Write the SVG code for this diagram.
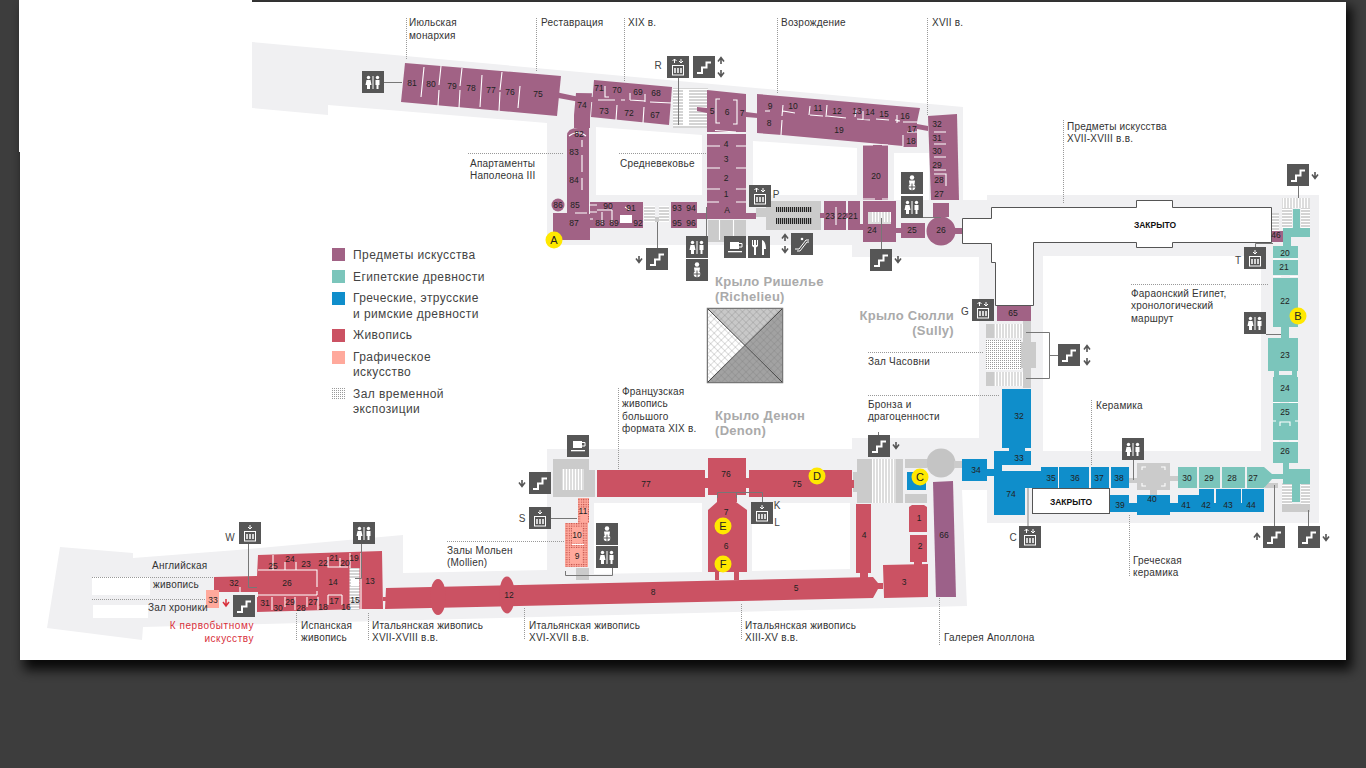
<svg xmlns="http://www.w3.org/2000/svg" width="1366" height="768" viewBox="0 0 1366 768">
<style>
text{font-family:"Liberation Sans",Arial,sans-serif}
.l{font-size:10px;fill:#333;letter-spacing:.22px}
.lg{font-size:12px;fill:#444;letter-spacing:.42px}
.n{font-size:8.5px;fill:#222;text-anchor:middle;dominant-baseline:central}
.wing{font-size:13px;font-weight:bold;fill:#aaa;letter-spacing:.3px}
.m{font-size:11px;fill:#222;text-anchor:middle;dominant-baseline:central}
.red{fill:#d8303c;text-anchor:end;letter-spacing:.55px}
.cl{font-size:8.5px;font-weight:bold;fill:#111;text-anchor:middle;dominant-baseline:central}
.lt{font-size:10px;fill:#444;text-anchor:middle;dominant-baseline:central}
.p{fill:#a16285}.t{fill:#7bc5bb}.b{fill:#0f8ecb}.r{fill:#cb5263}.k{fill:#cbcbcb}.y{fill:#ffe800}
.dot{stroke:#999;stroke-width:1;stroke-dasharray:1 1;fill:none}
.con{stroke:#777;stroke-width:1;fill:none}
.w{stroke:#fff;stroke-width:1.1;fill:none}
.hole{fill:#fff}
.arr{stroke:#555;stroke-width:1.6;fill:none}
</style>
<defs>
<filter id="sh" x="-5%" y="-5%" width="110%" height="110%"><feGaussianBlur stdDeviation="6"/></filter>
<pattern id="st" width="4" height="3" patternUnits="userSpaceOnUse"><rect width="4" height="3" fill="#d4d4d4"/><rect y="2" width="4" height="1" fill="#fff"/></pattern>
<pattern id="st2" width="3" height="3" patternUnits="userSpaceOnUse"><rect width="3" height="3" fill="#ddd"/><rect x="2" width="1" height="3" fill="#fff"/></pattern>
<pattern id="dots" width="2" height="2" patternUnits="userSpaceOnUse"><rect width="2" height="2" fill="#fff"/><rect width="1" height="1" fill="#999"/></pattern>
<pattern id="pd" width="2.4" height="2.4" patternUnits="userSpaceOnUse"><rect width="2.4" height="2.4" fill="#ffa99c"/><rect width="1.1" height="1.1" fill="#b8443f"/></pattern>
<pattern id="esc" width="2" height="6" patternUnits="userSpaceOnUse"><rect width="2" height="6" fill="#ccc"/><rect width="1.2" height="6" fill="#222"/></pattern>
<pattern id="hx" width="5" height="5" patternUnits="userSpaceOnUse" patternTransform="rotate(45)"><path d="M0 0H5M0 0V5" stroke="#777" stroke-width=".5" fill="none"/></pattern>
<g id="i-st"><rect width="22" height="22" fill="#565656"/><path d="M4 17H9V11.500H13.500V6.500H18" stroke="#fff" stroke-width="2" fill="none"/></g>
<g id="i-wc"><rect width="22" height="22" fill="#565656"/><g fill="#fff"><circle cx="6.500" cy="6.500" r="1.700"/><path d="M4.500 9H8.500L9.500 14H8V18H5V14H3.500Z"/><circle cx="15.500" cy="6.500" r="1.700"/><path d="M13.500 9H17.500V14H16.500V18H14.500V14H13.500Z"/><rect x="10.500" y="5" width="1" height="13"/></g></g>
<g id="i-lf"><rect width="22" height="22" fill="#565656"/><rect x="5.500" y="9.500" width="11" height="9.500" fill="none" stroke="#fff"/><path d="M8 12V17M11 12V17M14 12V17" stroke="#fff" stroke-width="1.500"/></g>
<g id="au"><path d="M0 3.500L3-.5L6 3.500M3-.5V6" class="arr"/></g>
<g id="ad"><path d="M0 2.500L3 6.500L6 2.500M3 6.500V0" class="arr"/></g>
<g id="sau"><path d="M-2 2L0 0L2 2M0 0V4" stroke="#fff" fill="none"/></g>
<g id="sad"><path d="M-2 2L0 4L2 2M0 0V4" stroke="#fff" fill="none"/></g>
<g id="i-lud"><use href="#i-lf"/><use href="#sau" x="7.500" y="3"/><use href="#sad" x="14" y="3"/></g>
<g id="i-ld"><use href="#i-lf"/><use href="#sad" x="11" y="3"/></g>
<g id="i-bb"><rect width="22" height="22" fill="#565656"/><g fill="#fff"><circle cx="11" cy="5.500" r="2.200"/><path d="M8 8.500H14L13.500 12H8.500Z"/><circle cx="11" cy="15" r="3.300"/></g><path d="M7.500 15H14.500M11 11.500V18.500" stroke="#565656"/></g>
<g id="i-cf"><rect width="22" height="22" fill="#565656"/><path d="M6 6H15V13H6Z" fill="#fff"/><path d="M15 7.500H18V11H15" fill="none" stroke="#fff"/><rect x="4" y="15" width="14" height="1.300" fill="#fff"/></g>
<g id="i-fk"><rect width="22" height="22" fill="#565656"/><path d="M4 4V10L6 11.500V19H8V11.500L10 10V4H9V9H8V4H6V9H5V4Z M14 19V4C17 5 18 9 18 13H16V19Z" fill="#fff"/></g>
<g id="i-es"><rect width="22" height="22" fill="#565656"/><path d="M4 16H8L15 7H18M6 18H9L16 9H18" stroke="#fff" fill="none"/><circle cx="11" cy="6" r="1.300" fill="#fff"/></g>
</defs>

<rect width="1366" height="768" fill="#3d3d3d"/>
<rect x="24" y="6" width="1328" height="664" fill="#000" opacity=".85" filter="url(#sh)"/>
<rect x="20" y="2" width="1326" height="658" fill="#fff"/>
<rect x="19" y="0" width="233" height="152" fill="#fff"/>

<g id="floor">
<path fill="#f0f0f2" d="M252 42L963 107V200H987V195H1319V523H987V490H962L967 606L143 627L142 640L47 628L60 547L133 553V558L237 550L403 535V573L547 570V449H852V438H979V257H852V245H547V123L328 105V115L252 108Z"/>
<path class="hole" d="M596 127L702 135V195H596Z"/>
<path class="hole" d="M753 141L857 148V195H753Z"/>
<rect class="hole" x="894" y="153" width="35" height="47"/>
<rect class="hole" x="1043" y="256" width="218" height="195"/>
<path class="hole" d="M594 503H702V572L594 574Z"/>
<path class="hole" d="M752 503H850V569L752 571Z"/>
<rect class="hole" x="92" y="577" width="58" height="18"/>
<rect class="hole" x="93" y="605" width="55" height="13"/>
</g>

<g id="service">
<rect x="673" y="88" width="35" height="40" fill="url(#st)"/>
<rect x="683" y="90" width="6" height="36" fill="#fff"/>
<rect x="644" y="206" width="11" height="16" fill="url(#st)"/>
<rect x="659" y="206" width="10" height="16" fill="url(#st)"/>
<rect x="655" y="217" width="4" height="5" class="k"/>
<rect class="k" x="766" y="201" width="55" height="29"/>
<rect x="776" y="207" width="36" height="5" fill="url(#esc)"/>
<rect x="776" y="218" width="36" height="6" fill="url(#esc)"/>
<rect class="k" x="756" y="208" width="10" height="9"/>
<rect class="k" x="708" y="220" width="38" height="22"/>
<path class="w" d="M719.500 220V240M733.500 220V240"/>
<rect x="1271" y="213" width="8" height="18" fill="url(#st)"/>
<rect x="1282" y="198" width="28" height="10" fill="url(#st2)"/>
<rect x="1282" y="208" width="10" height="20" fill="url(#st)"/>
<rect x="1301" y="208" width="9" height="20" fill="url(#st)"/>
<rect x="1282" y="483" width="10" height="21" fill="url(#st)"/>
<rect x="1301" y="483" width="9" height="21" fill="url(#st)"/>
<rect class="k" x="1282" y="504" width="28" height="8"/>
<rect class="k" x="1265" y="483" width="13" height="5"/>
<rect class="k" x="1023" y="321" width="8" height="67"/>
<rect class="k" x="1021" y="342" width="15" height="26"/>
<rect x="994" y="324" width="29" height="14" fill="url(#st2)"/>
<rect class="k" x="986" y="324" width="8" height="14"/>
<rect x="986" y="340" width="35" height="30" fill="url(#dots)"/>
<rect x="994" y="372" width="29" height="14" fill="url(#st2)"/>
<rect class="k" x="986" y="372" width="8" height="14"/>
<rect class="k" x="1129" y="478" width="8" height="5"/>
<rect class="k" x="1137" y="463" width="33" height="27"/>
<rect class="k" x="1170" y="476" width="8" height="5"/>
<rect class="k" x="1150" y="490" width="7" height="5"/>
<path class="w" d="M1142 470V467H1146M1161 467H1165V470M1142 483V486H1146M1161 486H1165V483"/>
<circle cx="941" cy="463" r="14.500" fill="#c4c4c4"/>
<rect class="k" x="905" y="459" width="22" height="9"/>
<rect class="k" x="954" y="461" width="8" height="7"/>
<rect class="k" x="905" y="494" width="22" height="9"/>
<rect class="k" x="857" y="459" width="46" height="44"/>
<rect x="872" y="459" width="24" height="44" fill="url(#st2)"/>
<rect class="k" x="853" y="472" width="4" height="20"/>
<rect class="k" x="553" y="459" width="36" height="38"/>
<rect class="k" x="589" y="470" width="6" height="27"/>
<path fill="url(#st2)" d="M562 469H584V490H562Z"/>
<rect class="k" x="576" y="568" width="13" height="12"/>
</g>

<g id="art">
<path class="p" d="M405 63L561 76L557 116L401 102Z"/>
<path class="p" d="M558 92.500L577 96.500V101.500L558 98Z"/>
<path class="p" d="M576 93L592 93.300L590 118V128H574L574 115Z"/>
<path class="p" d="M594 80L672 87L669 125L591 117Z"/>
<rect class="p" x="589" y="97" width="5" height="5"/>
<path class="p" d="M567 136Q567 128 578 128H589V214H590V240H553V213H567Z"/>
<circle class="p" cx="574" cy="179" r="6"/>
<circle class="p" cx="558" cy="205" r="6.500"/>
<path class="p" d="M590 202H643V228H590Z"/>
<rect x="620" y="215" width="12" height="8" fill="#fff"/>
<rect class="p" x="671" y="202" width="26" height="26"/>
<rect class="p" x="697" y="213" width="59" height="6"/>
<rect class="p" x="707" y="134" width="39" height="85"/>
<path class="p" d="M707 90L746 94V132H707Z"/>
<path class="p" d="M697 107L707 108V113L697 111Z"/>
<path class="p" d="M746 112L758 113.500V118L746 117Z"/>
<path class="p" d="M757 94L920 108L917 122L917 147L904 147L903 146L782 135L757 133Z"/>
<rect class="p" x="863" y="145" width="25" height="55"/>
<path class="p" d="M917 124L928 126V131L917 129Z"/>
<path class="p" d="M928 116L957 114L959 200L931 200Z"/>
<rect class="p" x="933" y="203" width="16" height="14"/>
<circle class="p" cx="941" cy="231" r="14.500"/>
<rect class="p" x="955" y="228" width="7" height="6"/>
<rect class="p" x="901" y="223" width="24" height="15"/>
<rect class="p" x="895" y="228" width="6" height="5"/>
<path class="p" d="M848 201H860V224H863V201H896V242H863V230H848Z"/>
<rect x="868" y="212" width="23" height="12" fill="#ddd"/>
<rect x="870" y="212" width="21" height="10" fill="url(#st2)"/>
<rect class="p" x="824" y="201" width="22" height="29"/>
<rect class="p" x="820" y="213" width="4" height="5"/>
<rect class="p" x="846" y="213" width="2" height="5"/>
<rect class="p" x="1271" y="231" width="12" height="11"/>
<rect class="p" x="997" y="306" width="34" height="15"/>
<path fill="#9c6189" d="M933 482L953 481L956 597L936 597Z"/>
<path class="w" d="M424 67L421 97M441 66L439 85M439 90L438 106M462 68L460 86M460 90L459 108M482 75L480 107M502 72L500 90M500 92L499 111M520 86L518 108"/>
<path class="w" d="M605 86V97L609 97M630 93V100M630 100L645 101M645 94V102M621 100L625 100M615 100H598M650 102L672 103"/>
<path class="w" d="M617 105L616 120M644 107L643 123"/>
<path class="w" d="M582 140V147M582 155V172M582 178V190M569 136Q578 129 586 136"/>
<path class="w" d="M589 205H597M575 213H587M590 212H597M590 219H593M603 210H612M612 210V222M625 207L630 210M597 210H603M602 212V224"/>
<path class="w" d="M707 146H720M736 146H746M707 168H720M736 168H746M707 189H720M736 189H746M707 202H719M736 202H746M715 130.500L736 132"/>
<path class="w" d="M720 99H716V123H720M733 100H737V124H733"/>
<path class="w" d="M765 111H770M782 116L783 105M783 111L795 113M809 115L810 106M810 115L823 116M827 105L826 117M827 116L846 118M856 110L855 117M857 119L870 120M863 111V120M876 119L889 120M895 120L900 121M897 115V123M903 122H917M782 120L781 135"/>
<path class="w" d="M903 135V146M907 132H917"/>
<path class="w" d="M863 145H873M882 145H888M863 199H875M882 199H888"/>
<path class="w" d="M934 132H946M934 144H946M934 157H946M934 170H946M934 174H946V186"/>
<path class="w" d="M836 207V225"/>
</g>

<g id="egypt">
<rect class="t" x="1293" y="209" width="7" height="19"/>
<rect class="t" x="1283" y="228" width="27" height="9"/>
<rect class="t" x="1283" y="237" width="8" height="9"/>
<rect class="t" x="1273" y="246" width="25" height="12"/>
<rect class="t" x="1273" y="260" width="25" height="15"/>
<rect class="t" x="1273" y="278" width="25" height="49"/>
<rect class="t" x="1281" y="327" width="8" height="11"/>
<rect class="t" x="1268" y="338" width="30" height="33"/>
<path class="t" d="M1274 371H1279V375H1292V371H1297V377H1274Z"/>
<rect class="t" x="1273" y="377" width="25" height="25"/>
<rect class="t" x="1273" y="403" width="25" height="18"/>
<rect class="t" x="1273" y="421" width="25" height="19"/>
<rect class="t" x="1273" y="442" width="25" height="21"/>
<rect class="t" x="1283" y="463" width="6" height="6"/>
<rect class="t" x="1283" y="469" width="27" height="15"/>
<rect class="t" x="1292" y="484" width="8" height="18"/>
<rect class="t" x="1178" y="467" width="19" height="21"/>
<rect class="t" x="1199" y="467" width="21" height="21"/>
<rect class="t" x="1222" y="467" width="23" height="21"/>
<path class="t" d="M1247 467H1264L1272 474H1283V479H1272L1264 488H1247Z"/>
<path class="w" d="M1273 259H1281M1290 259H1298M1273 276.500H1281M1290 276.500H1298"/>
<path class="w" d="M1280 426V422H1290V426"/>
<path class="w" d="M1273 402.500H1280M1289 402.500H1298M1273 421H1276M1295 421H1298M1273 441H1279M1289 441H1298"/>
</g>

<g id="greek">
<rect class="b" x="1002" y="389" width="29" height="59"/>
<path class="b" d="M994 451H1009V448H1025V451H1031V465H1002V471H1041V488H1025V515H994Z"/>
<rect class="b" x="987" y="469" width="7" height="7"/>
<rect class="b" x="962" y="459" width="25" height="22"/>
<rect class="b" x="1041" y="467" width="17" height="21"/>
<rect class="b" x="1059" y="467" width="30" height="21"/>
<rect class="b" x="1091" y="467" width="18" height="21"/>
<rect class="b" x="1111" y="467" width="18" height="21"/>
<rect class="b" x="1110" y="495" width="19" height="17"/>
<rect class="b" x="1129" y="503" width="8" height="9"/>
<rect class="b" x="1137" y="495" width="33" height="20"/>
<rect class="b" x="1170" y="503" width="8" height="9"/>
<rect class="b" x="1178" y="495" width="21" height="17"/>
<rect class="b" x="1199" y="489" width="15" height="23"/>
<rect class="b" x="1214" y="503" width="2" height="9"/>
<rect class="b" x="1216" y="489" width="25" height="23"/>
<rect class="b" x="1241" y="503" width="1" height="9"/>
<rect class="b" x="1242" y="489" width="22" height="23"/>
<rect class="b" x="907" y="472" width="19" height="18"/>
</g>

<g id="paintings">
<rect class="r" x="597" y="470" width="108" height="27"/>
<rect class="r" x="705" y="478" width="3" height="10"/>
<path class="r" d="M708 458H746V495H737V502H736L747 510V572H739V580H734V572H719V580H715V572H708V510L717 502V495H708Z"/>
<rect class="r" x="746" y="478" width="3" height="10"/>
<rect class="r" x="749" y="470" width="103" height="27"/>
<rect class="r" x="852" y="480" width="2" height="8"/>
<path class="r" d="M386 588L873 577L878 583H883V589H878L873 598L385 609Z"/>
<ellipse class="r" cx="507" cy="595" rx="8" ry="18.500"/>
<ellipse class="r" cx="438" cy="597" rx="8" ry="18"/>
<rect class="r" x="856" y="504" width="15" height="69"/>
<rect class="r" x="860" y="573" width="8" height="5"/>
<path class="r" d="M909 507L912 505H924L927 507V532H909Z"/>
<rect class="r" x="910" y="535" width="17" height="27"/>
<rect class="r" x="914" y="562" width="8" height="4"/>
<path class="r" d="M883 565L928 564V597L884 598Z"/>
<path class="r" d="M258 555L382 551L383 609H361L257 612V597H258V592H214V577L257 576Z"/>
<rect class="r" x="383" y="597" width="3" height="4"/>
<rect x="349.500" y="568" width="10" height="42" fill="url(#st)"/>
<rect x="351" y="578" width="8" height="8" fill="#fff"/>
<path class="w" d="M273 555V570M258 570H317V587M317 595H258M317 591V595M285 562V570M296 562V570M328 557V567H348M340 558V567M350 553V568M272 597V610M285 597V607M295 597V610M307 597V607M318 597V610M328 595H342M328 595V605M342 595V605M361 553V609M240 587V592"/>
<path fill="#ffa99c" d="M206 590H219V608H206Z"/>
<rect x="578" y="498" width="11" height="25" fill="url(#pd)"/>
<rect x="565" y="523" width="23" height="44" fill="url(#pd)"/>
<rect x="581" y="508" width="6" height="14" fill="#ffa99c"/>
<rect x="572" y="527" width="10" height="16" fill="#ffa99c"/>
<rect x="570" y="548" width="12" height="15" fill="#ffa99c"/>
<path class="w" d="M572 544.500H584"/>
</g>

<g id="closed">
<path fill="#fff" stroke="#555" stroke-width="1" d="M962.500 218.500H991.500V207.500H1136.500V200.500H1172.500V207.500H1271.500V242.500H1172.500V247.500H1136.500V242.500H1033.500V305.500H995.500V262.500H991.500V243.500H962.500Z"/>
<text class="cl" x="1155" y="225">ЗАКРЫТО</text>
<rect x="1032.500" y="488.500" width="77" height="25" fill="#fff" stroke="#555"/>
<text class="cl" x="1071" y="502">ЗАКРЫТО</text>
</g>

<g id="pyramid">
<rect x="707.500" y="308.500" width="75" height="74" fill="#fff" stroke="#777" stroke-width="1.500"/>
<path d="M708 309H782L745 346Z" fill="#c8c8c8"/>
<path d="M708 309V382L745 346Z" fill="#fff"/>
<path d="M782 309V382L745 346Z" fill="#a2a2a2"/>
<path d="M708 382H782L745 346Z" fill="#a2a2a2"/>
<rect x="708" y="309" width="74" height="73" fill="url(#hx)"/>
<path d="M708 309L782 382M782 309L708 382" stroke="#444"/>
</g>

<g id="leaders">
<path class="dot" d="M406.500 18V60M536.500 18V72M624.500 18V82M777.500 18V94M927.500 18V115M468 153.500H563M619 153.500H706M1063.500 120V204M1131 284.500H1268M868 352.500H983M868 395.500H999M1091.500 400V465M1129.500 515V577M618.500 388V470M447 541.500H565M92 577.500H214M92 599.500H206M296.500 613V640M368.500 613V640M524.500 608V640M741.500 604V640M939.500 598V645"/>
<path class="con" d="M384 82.500H402M678.500 78V125M657.500 222V248M706.500 207V236M881.500 218V249M923 217.500H941M1298.500 186V198M1255.500 247V243.500H1273M1266 334.500H1281M1058 355.500H1049.500M1026 332.500H1049.500V378.500H1026M878.500 432V435M1133.500 459V480M1274.500 526V485M1308.500 526V510M717.500 498V492.500H762.500V502M736.500 498V492.500M550 518.500H577M565.500 571V575.500H612.500V568M248.500 544V587.500H257M361.500 544V578.500H355"/>
<path d="M1028 526V488" stroke="#aaa" stroke-width="1.500"/>
</g>

<g id="icons">
<use href="#i-wc" x="362" y="71"/>
<use href="#i-lud" x="667" y="56"/>
<use href="#i-st" x="693" y="56"/><use href="#au" x="718" y="58"/><use href="#ad" x="718" y="70"/>
<use href="#i-st" x="646" y="248"/><use href="#ad" x="636" y="256"/>
<use href="#i-wc" x="686" y="236"/>
<use href="#i-bb" x="686" y="259"/>
<use href="#i-cf" x="724" y="236"/>
<use href="#i-fk" x="748" y="236"/>
<use href="#i-es" x="791" y="233"/><use href="#au" x="782" y="235"/><use href="#ad" x="782" y="246"/>
<use href="#i-lud" x="749" y="185"/>
<use href="#i-st" x="870" y="249"/><use href="#ad" x="895" y="256"/>
<use href="#i-bb" x="901" y="172"/>
<use href="#i-wc" x="901" y="196"/>
<use href="#i-st" x="1287" y="164"/><use href="#ad" x="1312" y="172"/>
<use href="#i-ld" x="1244" y="247"/>
<use href="#i-wc" x="1244" y="312"/>
<use href="#i-lud" x="972" y="299"/>
<use href="#i-st" x="1058" y="344"/><use href="#au" x="1084" y="346"/><use href="#ad" x="1084" y="358"/>
<use href="#i-st" x="868" y="435"/><use href="#ad" x="893" y="442"/>
<use href="#i-wc" x="1122" y="438"/>
<use href="#i-lud" x="1019" y="526"/>
<use href="#i-st" x="1263" y="526"/><use href="#au" x="1254" y="534"/>
<use href="#i-st" x="1298" y="526"/><use href="#ad" x="1323" y="534"/>
<use href="#i-ld" x="751" y="502"/>
<use href="#i-bb" x="596" y="523"/>
<use href="#i-wc" x="596" y="546"/>
<use href="#i-ld" x="529" y="507"/>
<use href="#i-st" x="529" y="472"/><use href="#ad" x="519" y="480"/>
<use href="#i-cf" x="567" y="435"/>
<use href="#i-ld" x="239" y="522"/>
<use href="#i-wc" x="353" y="522"/>
<use href="#i-st" x="233" y="595"/>
<path d="M223 602L226 606L229 602M226 606V599" stroke="#d8303c" stroke-width="1.500" fill="none"/>
</g>

<g id="access">
<text class="lt" x="658" y="65">R</text><text class="lt" x="776" y="194">P</text><text class="lt" x="1238" y="260">T</text><text class="lt" x="965" y="311">G</text><text class="lt" x="1013" y="537">C</text><text class="lt" x="777" y="505">K</text><text class="lt" x="777" y="522">L</text><text class="lt" x="522" y="518">S</text><text class="lt" x="230" y="537">W</text>
</g>

<g id="numbers">
<text class="n" x="412" y="83">81</text><text class="n" x="431" y="84">80</text><text class="n" x="452" y="86">79</text><text class="n" x="471" y="88">78</text><text class="n" x="491" y="90">77</text><text class="n" x="510" y="92">76</text><text class="n" x="538" y="94">75</text>
<text class="n" x="582" y="105">74</text><text class="n" x="599" y="88">71</text><text class="n" x="617" y="90">70</text><text class="n" x="638" y="92">69</text><text class="n" x="656" y="93">68</text><text class="n" x="604" y="111">73</text><text class="n" x="629" y="113">72</text><text class="n" x="655" y="115">67</text>
<text class="n" x="579" y="134">82</text><text class="n" x="574" y="152">83</text><text class="n" x="574" y="180">84</text><text class="n" x="558" y="205">86</text><text class="n" x="575" y="205">85</text><text class="n" x="574" y="223">87</text>
<text class="n" x="608" y="206">90</text><text class="n" x="631" y="208">91</text><text class="n" x="638" y="223">92</text><text class="n" x="600" y="223">88</text><text class="n" x="614" y="223">89</text><text class="n" x="677" y="208">93</text><text class="n" x="691" y="208">94</text><text class="n" x="677" y="223">95</text><text class="n" x="691" y="223">96</text>
<text class="n" x="712" y="111">5</text><text class="n" x="727" y="112">6</text><text class="n" x="742" y="113">7</text><text class="n" x="726" y="144">4</text><text class="n" x="726" y="159">3</text><text class="n" x="726" y="178">2</text><text class="n" x="726" y="194">1</text><text class="n" x="727" y="210">A</text>
<text class="n" x="770" y="106">9</text><text class="n" x="793" y="106">10</text><text class="n" x="818" y="108">11</text><text class="n" x="837" y="111">12</text><text class="n" x="857" y="111">13</text><text class="n" x="870" y="112">14</text><text class="n" x="884" y="114">15</text><text class="n" x="905" y="116">16</text><text class="n" x="769" y="123">8</text><text class="n" x="839" y="130">19</text><text class="n" x="912" y="129">17</text><text class="n" x="911" y="141">18</text><text class="n" x="876" y="176">20</text>
<text class="n" x="937" y="124">32</text><text class="n" x="937" y="138">31</text><text class="n" x="937" y="151">30</text><text class="n" x="937" y="165">29</text><text class="n" x="939" y="180">28</text><text class="n" x="939" y="194">27</text>
<text class="n" x="830" y="216">23</text><text class="n" x="842" y="216">22</text><text class="n" x="853" y="216">21</text><text class="n" x="872" y="230">24</text><text class="n" x="912" y="230">25</text><text class="n" x="941" y="230">26</text>
<text class="n" x="1276" y="235">46</text><text class="n" x="1285" y="253">20</text><text class="n" x="1284" y="267">21</text><text class="n" x="1285" y="301">22</text><text class="n" x="1285" y="355">23</text><text class="n" x="1285" y="388">24</text><text class="n" x="1285" y="412">25</text><text class="n" x="1285" y="451">26</text>
<text class="n" x="1253" y="478">27</text><text class="n" x="1232" y="478">28</text><text class="n" x="1209" y="478">29</text><text class="n" x="1187" y="478">30</text>
<text class="n" x="1019" y="416">32</text><text class="n" x="1019" y="458">33</text><text class="n" x="976" y="470">34</text><text class="n" x="1011" y="494">74</text><text class="n" x="1051" y="478">35</text><text class="n" x="1075" y="478">36</text><text class="n" x="1099" y="478">37</text><text class="n" x="1119" y="478">38</text><text class="n" x="1120" y="505">39</text><text class="n" x="1152" y="499">40</text><text class="n" x="1186" y="505">41</text><text class="n" x="1206" y="505">42</text><text class="n" x="1228" y="505">43</text><text class="n" x="1251" y="505">44</text><text class="n" x="1013" y="313">65</text>
<text class="n" x="646" y="484">77</text><text class="n" x="726" y="474">76</text><text class="n" x="797" y="484">75</text><text class="n" x="726" y="512">7</text><text class="n" x="726" y="546">6</text><text class="n" x="653" y="592">8</text><text class="n" x="796" y="588">5</text><text class="n" x="509" y="595">12</text><text class="n" x="864" y="535">4</text><text class="n" x="919" y="518">1</text><text class="n" x="920" y="546">2</text><text class="n" x="904" y="582">3</text><text class="n" x="944" y="535">66</text><text class="n" x="583" y="511">11</text><text class="n" x="577" y="535">10</text><text class="n" x="577" y="556">9</text>
<text class="n" x="234" y="583">32</text><text class="n" x="213" y="600">33</text><text class="n" x="273" y="566">25</text><text class="n" x="290" y="559">24</text><text class="n" x="306" y="564">23</text><text class="n" x="323" y="563">22</text><text class="n" x="334" y="558">21</text><text class="n" x="345" y="563">20</text><text class="n" x="354" y="558">19</text><text class="n" x="287" y="583">26</text><text class="n" x="333" y="582">14</text><text class="n" x="370" y="581">13</text><text class="n" x="265" y="603">31</text><text class="n" x="278" y="608">30</text><text class="n" x="290" y="602">29</text><text class="n" x="301" y="608">28</text><text class="n" x="313" y="602">27</text><text class="n" x="323" y="607">18</text><text class="n" x="334" y="601">17</text><text class="n" x="346" y="607">16</text><text class="n" x="355" y="600">15</text>
</g>

<g id="markers">
<circle class="y" cx="554" cy="240" r="8.500"/><text class="m" x="554" y="240">A</text>
<circle class="y" cx="1298" cy="316" r="8.500"/><text class="m" x="1298" y="316">B</text>
<circle class="y" cx="920" cy="477" r="8.500"/><text class="m" x="920" y="477">C</text>
<circle class="y" cx="817" cy="476" r="8.500"/><text class="m" x="817" y="476">D</text>
<circle class="y" cx="723" cy="526" r="8.500"/><text class="m" x="723" y="526">E</text>
<circle class="y" cx="723" cy="564" r="8.500"/><text class="m" x="723" y="564">F</text>
</g>

<g id="labels">
<text class="l" x="409" y="26">Июльская</text><text class="l" x="409" y="39">монархия</text>
<text class="l" x="541" y="26">Реставрация</text><text class="l" x="628" y="26">XIX в.</text><text class="l" x="781" y="26">Возрождение</text><text class="l" x="932" y="26">XVII в.</text>
<text class="l" x="470" y="167">Апартаменты</text><text class="l" x="470" y="179">Наполеона III</text><text class="l" x="620" y="167">Средневековье</text>
<text class="l" x="1067" y="130">Предметы искусства</text><text class="l" x="1067" y="142">XVII-XVIII в.в.</text>
<text class="l" x="1131" y="297">Фараонский Египет,</text><text class="l" x="1131" y="309">хронологический</text><text class="l" x="1131" y="322">маршрут</text>
<text class="l" x="868" y="365">Зал Часовни</text><text class="l" x="868" y="408">Бронза и</text><text class="l" x="868" y="420">драгоценности</text>
<text class="l" x="1096" y="409">Керамика</text><text class="l" x="1133" y="564">Греческая</text><text class="l" x="1133" y="576">керамика</text>
<text class="l" x="622" y="395">Французская</text><text class="l" x="622" y="407">живопись</text><text class="l" x="622" y="420">большого</text><text class="l" x="622" y="432">формата XIX в.</text>
<text class="l" x="447" y="554">Залы Мольен</text><text class="l" x="447" y="566">(Mollien)</text>
<text class="l" x="152" y="569">Английская</text><text class="l" x="153" y="588">живопись</text><text class="l" x="148" y="611">Зал хроники</text>
<text class="l red" x="254" y="629">К первобытному</text><text class="l red" x="254" y="642">искусству</text>
<text class="l" x="301" y="629">Испанская</text><text class="l" x="301" y="641">живопись</text>
<text class="l" x="372" y="629">Итальянская живопись</text><text class="l" x="372" y="641">XVII-XVIII в.в.</text>
<text class="l" x="529" y="629">Итальянская живопись</text><text class="l" x="529" y="641">XVI-XVII в.в.</text>
<text class="l" x="745" y="629">Итальянская живопись</text><text class="l" x="745" y="641">XIII-XV в.в.</text>
<text class="l" x="944" y="641">Галерея Аполлона</text>
<text class="wing" x="715" y="286">Крыло Ришелье</text><text class="wing" x="715" y="301">(Richelieu)</text>
<text class="wing" x="954" y="320" text-anchor="end">Крыло Сюлли</text><text class="wing" x="954" y="335" text-anchor="end">(Sully)</text>
<text class="wing" x="715" y="420">Крыло Денон</text><text class="wing" x="715" y="435">(Denon)</text>
</g>

<g id="legend">
<rect class="p" x="332" y="248" width="13" height="13"/><text class="lg" x="353" y="259">Предметы искусства</text>
<rect class="t" x="332" y="270" width="13" height="13"/><text class="lg" x="353" y="281">Египетские древности</text>
<rect class="b" x="332" y="292" width="13" height="13"/><text class="lg" x="353" y="302">Греческие, этрусские</text><text class="lg" x="353" y="318">и римские древности</text>
<rect class="r" x="332" y="329" width="13" height="13"/><text class="lg" x="353" y="339">Живопись</text>
<rect x="332" y="351" width="13" height="13" fill="#ffa99c"/><text class="lg" x="353" y="361">Графическое</text><text class="lg" x="353" y="376">искусство</text>
<rect x="332" y="387" width="13" height="13" fill="url(#dots)"/><text class="lg" x="353" y="398">Зал временной</text><text class="lg" x="353" y="413">экспозиции</text>
</g>
</svg>
